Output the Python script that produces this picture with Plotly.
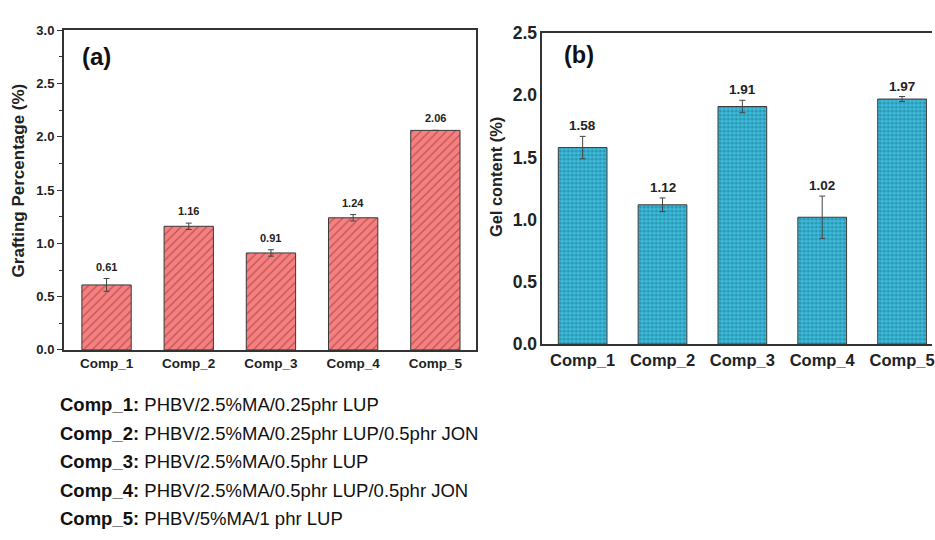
import plotly.graph_objects as go

categories = ["Comp_1", "Comp_2", "Comp_3", "Comp_4", "Comp_5"]
grafting = [0.61, 1.16, 0.91, 1.24, 2.06]
grafting_err = [0.06, 0.03, 0.03, 0.03, 0.0]
gel = [1.58, 1.12, 1.91, 1.02, 1.97]
gel_err = [0.09, 0.055, 0.05, 0.17, 0.02]
a_ticks = [0.0, 0.5, 1.0, 1.5, 2.0, 2.5, 3.0]
b_ticks = [0.0, 0.5, 1.0, 1.5, 2.0, 2.5]
legend_lines = [
    ("Comp_1:", "PHBV/2.5%MA/0.25phr LUP"),
    ("Comp_2:", "PHBV/2.5%MA/0.25phr LUP/0.5phr JON"),
    ("Comp_3:", "PHBV/2.5%MA/0.5phr LUP"),
    ("Comp_4:", "PHBV/2.5%MA/0.5phr LUP/0.5phr JON"),
    ("Comp_5:", "PHBV/5%MA/1 phr LUP"),
]

FONT = "Liberation Sans, Arial, sans-serif"
W, H = 935, 540
AX = "#333333"

fig = go.Figure()

fig.add_trace(go.Bar(
    x=categories, y=grafting, width=0.6,
    marker=dict(color="#F67F7F", line=dict(color="#3a3a3a", width=1),
                pattern=dict(shape="/", size=6, solidity=0.2, fgcolor="#7a2c2c", fillmode="overlay")),
    error_y=dict(type="data", array=grafting_err, color="#444", thickness=1, width=3),
    xaxis="x", yaxis="y", showlegend=False,
))
fig.add_trace(go.Bar(
    x=categories, y=gel, width=0.61,
    marker=dict(color="#3CBCDC", line=dict(color="#3a3a3a", width=1),
                pattern=dict(shape=".", size=4, solidity=0.5, fgcolor="#1d6f87", fillmode="overlay")),
    error_y=dict(type="data", array=gel_err, color="#444", thickness=1, width=3),
    xaxis="x2", yaxis="y2", showlegend=False,
))

ann = []
for c, v, e in zip(categories, grafting, grafting_err):
    ann.append(dict(x=c, y=v + e, xref="x", yref="y", text=f"<b>{v:.2f}</b>", showarrow=False,
                    yanchor="bottom", yshift=4, font=dict(family=FONT, size=11, color="#222")))
for c, v, e in zip(categories, gel, gel_err):
    ann.append(dict(x=c, y=v + e, xref="x2", yref="y2", text=f"<b>{v:.2f}</b>", showarrow=False,
                    yanchor="bottom", yshift=1, font=dict(family=FONT, size=13.5, color="#222")))

ann.append(dict(x=80 / W, y=1 - 48 / H, xref="paper", yref="paper", text="<b>(a)</b>", showarrow=False,
                xanchor="left", yanchor="middle", font=dict(family=FONT, size=24, color="#111")))
ann.append(dict(x=564 / W, y=1 - 47 / H, xref="paper", yref="paper", text="<b>(b)</b>", showarrow=False,
                xanchor="left", yanchor="middle", font=dict(family=FONT, size=23.5, color="#111")))

ann.append(dict(x=19 / W, y=1 - 177 / H, xref="paper", yref="paper", text="<b>Grafting Percentage (%)</b>",
                textangle=-90, showarrow=False, xanchor="center", yanchor="middle",
                font=dict(family=FONT, size=17, color="#222")))
ann.append(dict(x=497 / W, y=1 - 173 / H, xref="paper", yref="paper", text="<b>Gel content (%)</b>",
                textangle=-90, showarrow=False, xanchor="center", yanchor="middle",
                font=dict(family=FONT, size=16.4, color="#222")))

y0 = 410
for i, (k, d) in enumerate(legend_lines):
    ann.append(dict(x=58 / W, y=1 - (y0 + i * 29.5) / H, xref="paper", yref="paper",
                    text=f"<b>{k}</b> {d}", showarrow=False, xanchor="left", yanchor="middle",
                    font=dict(family=FONT, size=18.5, color="#111")))

fig.update_layout(
    width=W, height=H, margin=dict(l=0, r=0, t=0, b=0),
    paper_bgcolor="white", plot_bgcolor="white",
    font=dict(family=FONT, color="#222"),
    annotations=ann, bargap=0.4,
    xaxis=dict(domain=[64 / W, 478 / W], anchor="y", range=[-0.52, 4.5],
               showline=True, linecolor=AX, linewidth=1.5, mirror=True, ticks="",
               tickfont=dict(family=FONT, size=13.5, color="#222"),
               tickprefix="<b>", ticksuffix="</b>", showgrid=False, zeroline=False, fixedrange=True),
    yaxis=dict(domain=[1 - 353 / H, 1 - 21 / H], anchor="x", range=[0, 3.0],
               tickvals=a_ticks, ticktext=[f"<b>{t:.1f}</b>" for t in a_ticks],
               showline=True, linecolor=AX, linewidth=1.5, mirror=True,
               ticks="outside", ticklen=5, tickcolor=AX, tickwidth=1.2,
               minor=dict(dtick=0.25, ticks="outside", ticklen=3, tickcolor=AX, tickwidth=1.2),
               tickfont=dict(family=FONT, size=13, color="#222"),
               showgrid=False, zeroline=False),
    xaxis2=dict(domain=[544 / W, 1.0], anchor="y2", range=[-0.506, 4.375],
                showline=True, linecolor=AX, linewidth=1.5, mirror=True, ticks="",
                tickfont=dict(family=FONT, size=16.5, color="#222"),
                tickprefix="<b>", ticksuffix="</b>", showgrid=False, zeroline=False),
    yaxis2=dict(domain=[1 - 347 / H, 1 - 24 / H], anchor="x2", range=[0, 2.5],
                tickvals=b_ticks, ticktext=[f"<b>{t:.1f}</b>" for t in b_ticks],
                showline=True, linecolor=AX, linewidth=1.5, mirror=False, ticks="",
                tickfont=dict(family=FONT, size=17.5, color="#222"),
                showgrid=False, zeroline=False),
)

fig.write_html("out.html")
